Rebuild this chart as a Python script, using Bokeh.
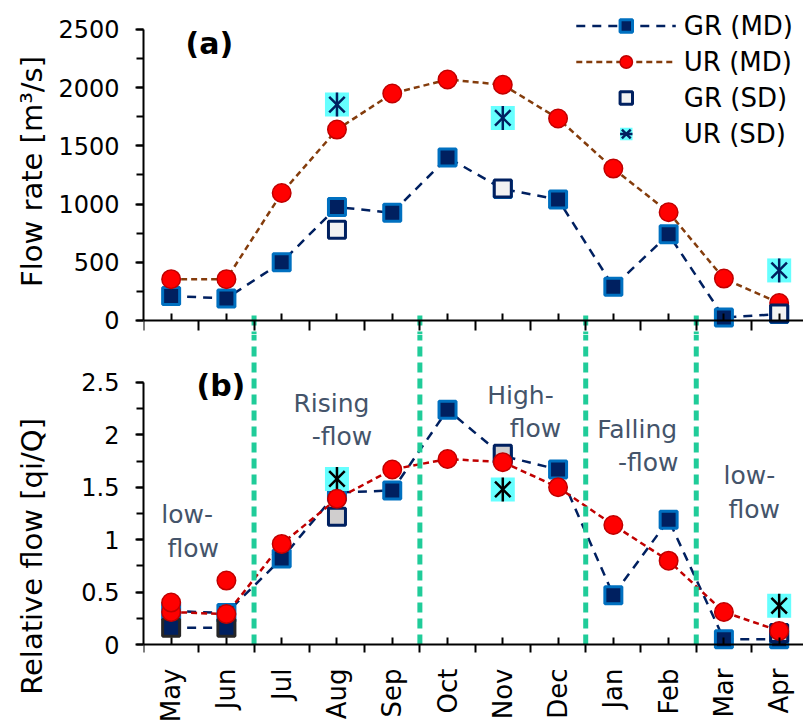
from bokeh.plotting import figure
from bokeh.layouts import column, row
from bokeh.models import FixedTicker, LinearAxis, Range1d, Legend, LegendItem
from bokeh.core.properties import value
from bokeh.embed import file_html
from bokeh.resources import INLINE
import math

# ---------------- data ----------------
months = ["May", "Jun", "Jul", "Aug", "Sep", "Oct", "Nov", "Dec", "Jan", "Feb", "Mar", "Apr"]

# panel (a): flow rate [m3/s]
gr_md_flow = [210, 190, 500, 975, 925, 1400, 1130, 1040, 290, 740, 25, 55]
ur_md_flow = [355, 355, 1095, 1640, 1950, 2070, 2025, 1735, 1305, 930, 360, 150]
sd_months = ["Aug", "Nov", "Apr"]
gr_sd_flow = [780, 1135, 60]
ur_sd_flow = [1855, 1740, 430]

# panel (b): relative flow [qi/Q]
gr_md_rel = [0.32, 0.30, 0.82, 1.45, 1.47, 2.24, 1.80, 1.67, 0.47, 1.19, 0.05, 0.05]
ur_md_rel = [0.31, 0.29, 0.96, 1.39, 1.67, 1.77, 1.74, 1.50, 1.14, 0.80, 0.31, 0.13]
gr_sd_rel = [1.22, 1.82, 0.11]
ur_sd_rel = [1.58, 1.48, 0.37]
alt_months = ["May", "Jun"]
gr_alt_rel = [0.16, 0.16]
ur_alt_rel = [0.40, 0.61]

flow_ticks = [0, 500, 1000, 1500, 2000, 2500]
rel_ticks = [0, 0.5, 1, 1.5, 2, 2.5]
rel_tick_labels = ["0", "0.5", "1", "1.5", "2", "2.5"]

# flow phases (boundaries between months) and labels
phase_bounds = [1.5, 4.5, 7.5, 9.5]
phase_text = ["low-", "flow", "Rising", "-flow", "High-", "flow", "Falling", "-flow", "low-", "flow"]
phase_tx = [0.29, 0.40, 2.90, 3.09, 6.32, 6.59, 8.43, 8.63, 10.46, 10.55]
phase_ty = [1.24, 0.92, 2.30, 1.98, 2.38, 2.06, 2.05, 1.74, 1.61, 1.29]

# ---------------- style ----------------
NAVY = "#002060"
BLUE = "#0070C0"
RED = "#FF0000"
DARKRED = "#C00000"
BROWN = "#843C0C"
CYAN = "#66FFFF"
GREEN = "#20CC99"
SLATE = "#44546A"
FONT = "DejaVu Sans"

xi = list(range(len(months)))
sd_x = [months.index(m) for m in sd_months]
alt_x = [months.index(m) for m in alt_months]
XR = (-0.5, 11.44)
TOP_YR = (-120.3, 2749)
BOT_YR = (-0.0763, 2.958)
BOT_TITLE_YR = (-0.773, 2.958)   # same scale as panel (b), extended to the page bottom
TW = 50  # width of the strip holding the y-axis titles


def make_fig(frame_h, yr, min_bottom):
    p = figure(frame_width=660, frame_height=frame_h, x_range=Range1d(*XR), y_range=Range1d(*yr),
               output_backend="svg", toolbar_location=None, min_border_left=143 - TW, min_border_right=0,
               min_border_top=0, min_border_bottom=min_bottom, x_axis_location=None,
               y_axis_location=None)
    p.grid.visible = False
    p.outline_line_color = None
    return p


def title_fig(frame_h, yr, text, ty):
    t = figure(frame_width=TW, frame_height=frame_h, x_range=Range1d(0, TW), y_range=Range1d(*yr),
               output_backend="svg", toolbar_location=None, min_border_left=0, min_border_right=0,
               min_border_top=0, min_border_bottom=0, x_axis_location=None,
               y_axis_location=None)
    t.grid.visible = False
    t.outline_line_color = None
    t.text(x=[31], y=[ty], text=[text], angle=math.pi / 2, text_font=value(FONT),
           text_font_size="29px", text_color="black", text_align="center", text_baseline="middle")
    return t


def style_axis(ax):
    ax.axis_line_width = 2
    ax.axis_line_color = "black"
    ax.major_tick_line_width = 2
    ax.minor_tick_line_width = 2
    ax.major_tick_line_color = "black"
    ax.minor_tick_line_color = "black"
    ax.major_label_text_font = FONT
    ax.major_label_text_font_size = "24px"
    ax.major_label_text_color = "black"


def add_xaxis(p, show_labels):
    # tick-only axis at y = 0
    ax = LinearAxis(ticker=FixedTicker(ticks=xi, minor_ticks=[i - 0.5 for i in range(len(months) + 1)]),
                    fixed_location=0)
    style_axis(ax)
    ax.major_tick_in = 7
    ax.major_tick_out = 0
    ax.minor_tick_in = 0
    ax.minor_tick_out = 10
    ax.major_label_text_color = None
    p.add_layout(ax, "below")
    if show_labels:
        la = LinearAxis(ticker=FixedTicker(ticks=xi, minor_ticks=[]))
        style_axis(la)
        la.axis_line_color = None
        la.major_tick_line_color = None
        la.minor_tick_line_color = None
        la.major_tick_in = 0
        la.major_tick_out = 0
        la.minor_tick_in = 0
        la.minor_tick_out = 0
        la.major_label_text_font_size = "26px"
        la.major_label_overrides = {i: m for i, m in enumerate(months)}
        la.major_label_orientation = math.pi / 2
        la.major_label_standoff = 16
        p.add_layout(la, "below")


def add_yaxis(p, ticks, labels, bounds):
    minor = []
    for a, b in zip(ticks[:-1], ticks[1:]):
        minor += [a, (a + b) / 2]
    minor.append(ticks[-1])
    ax = LinearAxis(ticker=FixedTicker(ticks=ticks, minor_ticks=minor), bounds=bounds)
    style_axis(ax)
    ax.major_tick_in = 0
    ax.major_tick_out = 8
    ax.minor_tick_in = 0
    ax.minor_tick_out = 7
    ax.major_label_standoff = 16
    if labels is not None:
        ax.major_label_overrides = {t: l for t, l in zip(ticks, labels)}
    p.add_layout(ax, "left")


# ---------------- panel (a) ----------------
p1 = make_fig(334, TOP_YR, 0)
add_xaxis(p1, False)
add_yaxis(p1, flow_ticks, None, (0, 2500))
t1 = title_fig(334, TOP_YR, "Flow rate [m³/s]", 1280)

gr_line = p1.line(xi, gr_md_flow, line_color=NAVY, line_width=2.5, line_dash="9 7")
ur_line = p1.line(xi, ur_md_flow, line_color=BROWN, line_width=2.5, line_dash="6 4")
p1.segment(x0=phase_bounds, y0=[43] * 4, x1=phase_bounds, y1=[TOP_YR[0]] * 4,
           line_color=GREEN, line_width=5, line_dash="10 6")
gr_sq = p1.scatter(xi, gr_md_flow, marker="square", size=17, fill_color=NAVY, line_color=BLUE, line_width=3)
ur_ci = p1.scatter(xi, ur_md_flow, marker="circle", size=18.5, fill_color=RED, line_color=DARKRED, line_width=1.5)
gr_sd = p1.scatter(sd_x, gr_sd_flow, marker="square", size=17, fill_color="#F2F2F2", line_color=NAVY, line_width=3)
ur_box = p1.scatter(sd_x, ur_sd_flow, marker="square", size=24, fill_color=CYAN, line_color=None)
ur_x = p1.scatter(sd_x, ur_sd_flow, marker="x", size=22, line_color=NAVY, line_width=2.5)
ur_d = p1.scatter(sd_x, ur_sd_flow, marker="dash", size=24, angle=math.pi / 2, line_color=NAVY, line_width=2.5)

p1.text(x=[0.69], y=[2380], text=["(a)"], text_font=value(FONT), text_font_size="30px",
        text_font_style="bold", text_align="center", text_baseline="middle", text_color="black")

legend = Legend(items=[
    LegendItem(label="GR (MD)", renderers=[gr_line, gr_sq]),
    LegendItem(label="UR (MD)", renderers=[ur_line, ur_ci]),
    LegendItem(label="GR (SD)", renderers=[gr_sd]),
    LegendItem(label="UR (SD)", renderers=[ur_box, ur_x, ur_d]),
], location="top_right")
legend.border_line_color = None
legend.background_fill_alpha = 0
legend.label_text_font = FONT
legend.label_text_font_size = "26px"
legend.label_text_color = "black"
legend.glyph_width = 100
legend.glyph_height = 31
legend.label_height = 31
legend.spacing = 5
legend.padding = 9
legend.margin = 10
legend.label_standoff = 8
p1.add_layout(legend)

# ---------------- panel (b) ----------------
p2 = make_fig(318, BOT_YR, 73)
add_xaxis(p2, True)
add_yaxis(p2, rel_ticks, rel_tick_labels, (0, 2.5))
t2 = title_fig(318 + 73, BOT_TITLE_YR, "Relative flow [qi/Q]", 0.84)

p2.line(alt_x, gr_alt_rel, line_color=NAVY, line_width=2.5, line_dash="9 7")
p2.line(xi, gr_md_rel, line_color=NAVY, line_width=2.5, line_dash="9 7")
p2.line(xi, ur_md_rel, line_color=DARKRED, line_width=2.5, line_dash="6 4")
p2.segment(x0=phase_bounds, y0=[0] * 4, x1=phase_bounds, y1=[BOT_YR[1]] * 4,
           line_color=GREEN, line_width=5, line_dash="10 6")
p2.scatter(xi, gr_md_rel, marker="square", size=17, fill_color=NAVY, line_color=BLUE, line_width=3)
p2.scatter(sd_x, gr_sd_rel, marker="square", size=17, fill_color="#D0CECE", line_color=NAVY, line_width=3)
p2.scatter(alt_x, gr_alt_rel, marker="square", size=17, fill_color=NAVY, line_color="#262626", line_width=3)
p2.scatter(sd_x, ur_sd_rel, marker="square", size=24, fill_color=CYAN, line_color=None)
p2.scatter(sd_x, ur_sd_rel, marker="x", size=22, line_color="black", line_width=2.5)
p2.scatter(sd_x, ur_sd_rel, marker="dash", size=24, angle=math.pi / 2, line_color="black", line_width=2.5)
p2.scatter(xi, ur_md_rel, marker="circle", size=18.5, fill_color=RED, line_color=DARKRED, line_width=1.5)
p2.scatter(alt_x, ur_alt_rel, marker="circle", size=18.5, fill_color=RED, line_color=DARKRED, line_width=1.5)

p2.text(x=phase_tx, y=phase_ty, text=phase_text, text_font=value(FONT), text_font_size="25px",
        text_color=SLATE, text_align="center", text_baseline="middle")
p2.text(x=[0.90], y=[2.47], text=["(b)"], text_font=value(FONT), text_font_size="30px",
        text_font_style="bold", text_align="center", text_baseline="middle", text_color="black")

layout = column(row(t1, p1, spacing=0), row(t2, p2, spacing=0), spacing=0)
open("out.html", "w").write(file_html(layout, INLINE))
